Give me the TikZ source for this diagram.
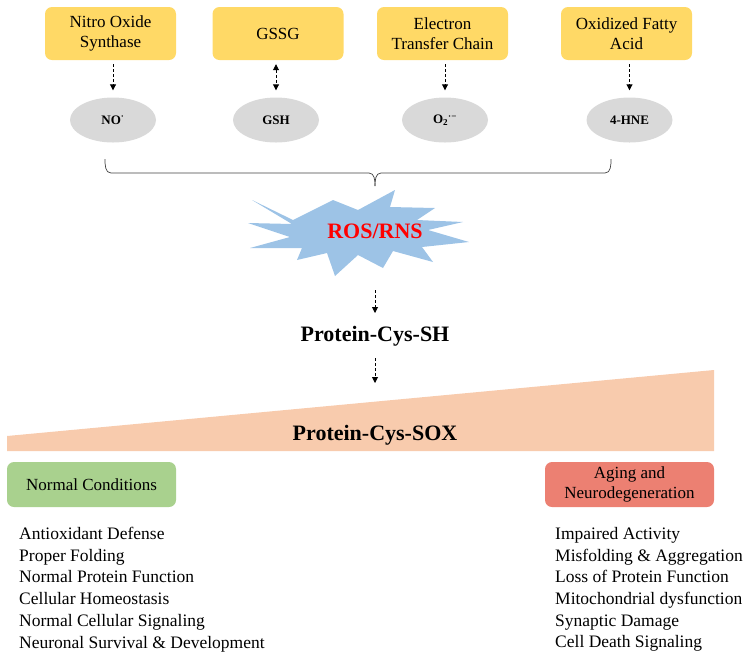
\documentclass[tikz,border=0pt]{standalone}
\usepackage{fontspec}
\setmainfont{Liberation Serif}
\usetikzlibrary{arrows.meta,shapes.geometric}
\definecolor{yboxc}{HTML}{FFD966}
\definecolor{gellc}{HTML}{D9D9D9}
\definecolor{starc}{HTML}{9DC3E6}
\definecolor{wedgec}{HTML}{F8CBAD}
\definecolor{gboxc}{HTML}{A9D18E}
\definecolor{rboxc}{HTML}{EC8072}
\definecolor{rostext}{HTML}{FF0000}
\begin{document}
\begin{tikzpicture}[x=1pt,y=-1pt,
  ybox/.style={fill=yboxc, rounded corners=7pt, minimum width=131pt, minimum height=53pt,
    align=center, inner sep=0pt, font=\fontsize{17}{20.5}\selectfont},
  ell/.style={ellipse, fill=gellc, minimum width=86pt, minimum height=45pt, inner sep=0pt,
    font=\fontsize{13}{15}\selectfont\bfseries},
  dasharrow/.style={dash pattern=on 3pt off 2pt, line width=0.9pt, -{Triangle[length=6pt,width=6pt]}},
  dbl/.style={dash pattern=on 3pt off 2pt, line width=0.9pt, {Triangle[length=6pt,width=6pt]}-{Triangle[length=6pt,width=6pt]}},
  condbox/.style={rounded corners=7pt, minimum width=169pt, minimum height=45pt,
    align=center, inner sep=0pt, font=\fontsize{17}{20.5}\selectfont},
  bigbold/.style={font=\fontsize{22}{26}\selectfont\bfseries, inner sep=0pt},
  listtext/.style={align=left, anchor=north west, inner sep=0pt, font=\fontsize{17.5}{21.7}\selectfont},
  bracel/.style={line width=0.7pt, draw=black!75}
]
\useasboundingbox (0,0) rectangle (754,657);

% top boxes
\node[ybox] (b1) at (110.5,33.5) {Nitro Oxide\\Synthase};
\node[ybox] (b2) at (278,33.5) {GSSG};
\node[ybox] (b3) at (442.5,33.5) {Electron\\Transfer Chain};
\node[ybox] (b4) at (626.5,33.5) {Oxidized Fatty\\Acid};

% ellipses
\node[ell] (e1) at (113,120) {NO\textsuperscript{·}};
\node[ell] (e2) at (276,120) {GSH};
\node[ell] (e3) at (445,120) {O\textsubscript{2}\textsuperscript{·−}};
\node[ell] (e4) at (629.5,120) {4-HNE};

% arrows
\draw[dasharrow, shorten <=4pt, shorten >=7pt] (b1.south -| e1) -- (e1.north);
\draw[dbl, shorten <=4pt, shorten >=7pt] (b2.south -| e2) -- (e2.north);
\draw[dasharrow, shorten <=4pt, shorten >=7pt] (b3.south -| e3) -- (e3.north);
\draw[dasharrow, shorten <=4pt, shorten >=7pt] (b4.south -| e4) -- (e4.north);

% brace
\coordinate (brL) at (105,159);
\coordinate (brR) at (611,159);
\coordinate (brM) at (375,186);
\draw[bracel] (brL) to[out=-90,in=180] (111,173) -- (369,173) to[out=0,in=90] (brM);
\draw[bracel] (brM) to[out=90,in=180] (381,173) -- (605,173) to[out=0,in=-90] (brR);

% starburst
\fill[starc] (252,200) -- (293,220) -- (333,200) -- (358,210) -- (395,190) -- (390,207)
  -- (435,208) -- (417,220) -- (463,222) -- (428,230) -- (469,242) -- (422,247)
  -- (433,262) -- (393,251) -- (383,268) -- (358,255) -- (335,276) -- (327,253)
  -- (297,260) -- (302,248) -- (250,248) -- (290,237) -- (248,223) -- (292,224) -- cycle;
\node[bigbold, text=rostext] (ros) at (375,231) {ROS/RNS};

% Protein-Cys-SH
\coordinate (a1s) at (375,290);
\node[bigbold] (pcsh) at (375,336) {Protein-Cys-SH};
\draw[dasharrow] (a1s) -- (375,313) coordinate (a1e);
\coordinate (a2s) at (375,358);
\coordinate (a2e) at (375,383);
\draw[dasharrow] (a2s) -- (a2e);

% wedge
\fill[wedgec] (7,451) -- (7,436) -- (714,370) -- (714,451) -- cycle;
\node[bigbold] (pcsox) at (375,435) {Protein-Cys-SOX};

% condition boxes
\node[condbox, fill=gboxc] (normal) at (91.5,484.5) {Normal Conditions};
\node[condbox, fill=rboxc] (aging) at (629.5,484.5) {Aging and\\Neurodegeneration};

% lists
\node[listtext] (leftlist) at (19,527) {Antioxidant Defense\\Proper Folding\\Normal Protein Function\\Cellular Homeostasis\\Normal Cellular Signaling\\Neuronal Survival \& Development};
\node[listtext] (rightlist) at (555,527) {Impaired Activity\\Misfolding \& Aggregation\\Loss of Protein Function\\Mitochondrial dysfunction\\Synaptic Damage\\Cell Death Signaling};
\end{tikzpicture}
\end{document}
